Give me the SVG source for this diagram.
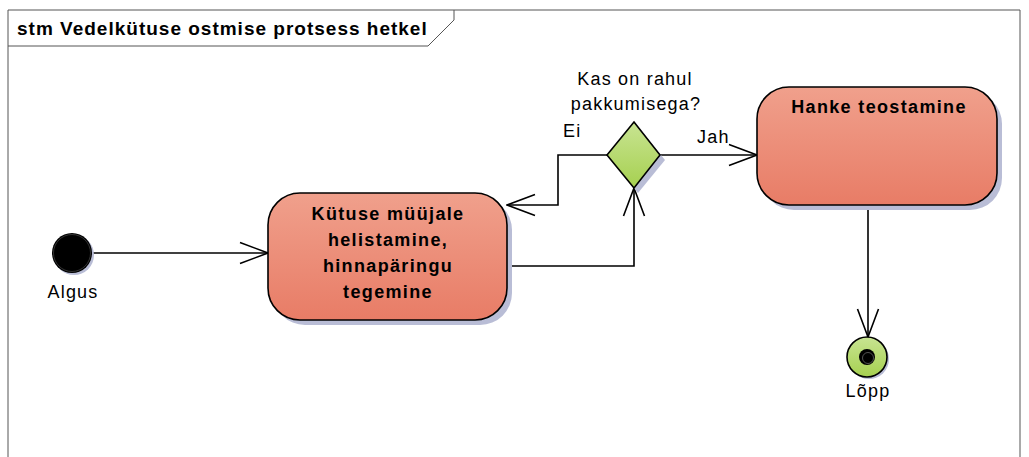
<svg xmlns="http://www.w3.org/2000/svg" width="1029" height="457" viewBox="0 0 1029 457">
<defs>
<linearGradient id="gState" x1="0" y1="0" x2="0" y2="1">
<stop offset="0" stop-color="#f0a08c"/>
<stop offset="1" stop-color="#e87c66"/>
</linearGradient>
<linearGradient id="gGreen" x1="0" y1="0" x2="0" y2="1">
<stop offset="0" stop-color="#c8e492"/>
<stop offset="1" stop-color="#a6d050"/>
</linearGradient>
<marker id="arr" viewBox="0 0 30 24" refX="29" refY="12" markerWidth="30" markerHeight="24" markerUnits="userSpaceOnUse" orient="auto">
<path d="M1,1.5 L29,12 L1,22.5" fill="none" stroke="#000" stroke-width="1.6"/>
</marker>
<style>
.frame{fill:none;stroke:#555;stroke-width:1}
.title{font-family:"Liberation Sans",Arial,sans-serif;font-weight:bold;font-size:19px;letter-spacing:1px;fill:#000}
.state{fill:url(#gState);stroke:#000;stroke-width:1.6}
.shadow{fill:#b9bdd6}
.sname{font-family:"Liberation Sans",Arial,sans-serif;font-weight:bold;font-size:18px;letter-spacing:1.35px;fill:#000;text-anchor:middle}
.lbl{font-family:"Liberation Sans",Arial,sans-serif;font-size:18px;letter-spacing:1.2px;fill:#000}
.conn{fill:none;stroke:#000;stroke-width:1.6}
</style>
</defs>
<rect width="1029" height="457" fill="#fff"/>
<g id="frame">
<path class="frame" d="M8,457 L8,10 L1020,10 L1020,457"/>
<path class="frame" d="M8,46 L428,46 L454,20 L454,10"/>
<text class="title" x="17" y="35">stm Vedelkütuse ostmise protsess hetkel</text>
</g>
<g id="connectors">
<path class="conn" d="M92,253 L268,253" marker-end="url(#arr)"/>
<path class="conn" d="M507,266 L634,266 L634,188" marker-end="url(#arr)"/>
<path class="conn" d="M607,155 L558,155 L558,205 L507,205" marker-end="url(#arr)"/>
<path class="conn" d="M660,155 L757,155" marker-end="url(#arr)"/>
<path class="conn" d="M868,205 L868,337" marker-end="url(#arr)"/>
<text class="lbl" x="563" y="137">Ei</text>
<text class="lbl" x="697" y="143">Jah</text>
</g>
<g id="algus">
<circle class="shadow" cx="74" cy="255" r="20"/>
<circle cx="72" cy="253" r="20" fill="#000"/>
<circle cx="72" cy="253" r="18.5" fill="none" stroke="#555" stroke-width="0.6"/>
<text class="lbl" x="73" y="298" text-anchor="middle">Algus</text>
</g>
<g id="kytuse">
<rect class="shadow" x="273" y="198" width="239" height="127" rx="32"/>
<rect class="state" x="268" y="193" width="239" height="127" rx="32"/>
<text class="sname" x="388" y="220">Kütuse müüjale</text>
<text class="sname" x="388" y="246">helistamine,</text>
<text class="sname" x="388" y="272">hinnapäringu</text>
<text class="sname" x="388" y="298">tegemine</text>
</g>
<g id="otsus">
<path class="shadow" d="M638,127 L665,160 L638,193 L611,160 Z"/>
<path d="M634,122 L660,155 L634,188 L607,155 Z" fill="url(#gGreen)" stroke="#000" stroke-width="1.6"/>
<text class="lbl" x="635" y="85" text-anchor="middle">Kas on rahul</text>
<text class="lbl" x="636" y="110" text-anchor="middle">pakkumisega?</text>
</g>
<g id="hanke">
<rect class="shadow" x="762" y="92" width="240" height="118" rx="32"/>
<rect class="state" x="757" y="87" width="240" height="118" rx="32"/>
<text class="sname" x="879" y="113">Hanke teostamine</text>
</g>
<g id="lopp">
<circle class="shadow" cx="869" cy="359" r="20"/>
<circle cx="867" cy="357" r="20" fill="url(#gGreen)" stroke="#000" stroke-width="1.6"/>
<circle cx="867" cy="357" r="8" fill="#000"/>
<circle cx="868" cy="358" r="5.5" fill="none" stroke="#666" stroke-width="0.8"/>
<text class="lbl" x="868" y="397" text-anchor="middle">Lõpp</text>
</g>
</svg>
